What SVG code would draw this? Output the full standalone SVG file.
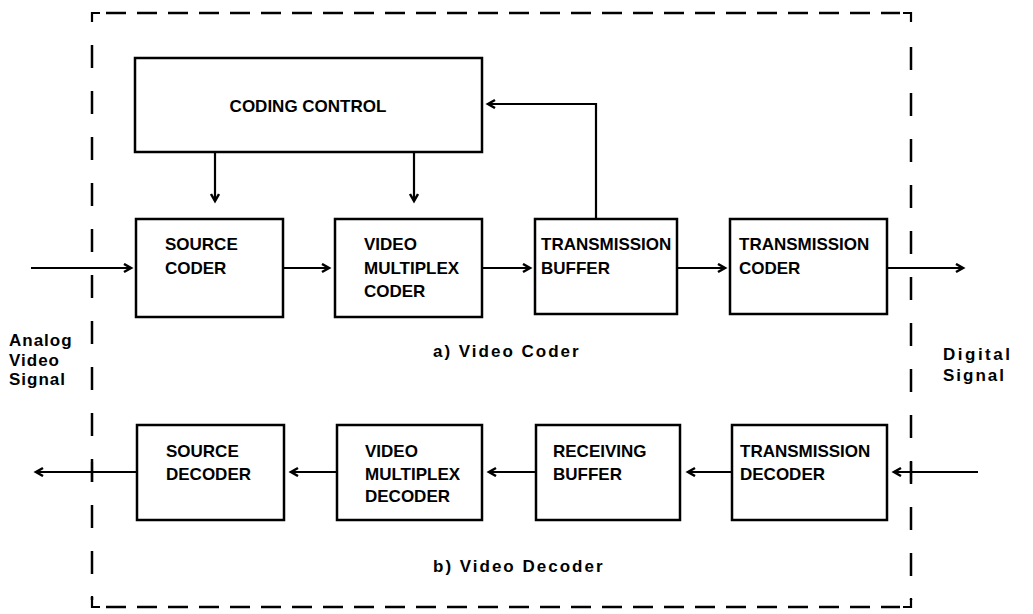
<svg xmlns="http://www.w3.org/2000/svg" width="1033" height="614" viewBox="0 0 1033 614">
<style>
.box{fill:#fff;stroke:#000;stroke-width:2.5}
.t{font-family:"Liberation Sans",Arial,sans-serif;font-weight:bold;font-size:17px;fill:#000}
.lbl{font-family:"Liberation Sans",Arial,sans-serif;font-weight:bold;font-size:17px;fill:#000;letter-spacing:2px}
.ln{fill:none;stroke:#000;stroke-width:2.2}
.dh{fill:none;stroke:#000;stroke-width:2.5;stroke-dasharray:20 11}
.dv{fill:none;stroke:#000;stroke-width:2.5;stroke-dasharray:23 23}
</style>
<defs>
<marker id="ah" markerUnits="userSpaceOnUse" markerWidth="12" markerHeight="12" refX="8" refY="5" orient="auto">
<path d="M1,1 L8,5 L1,9" fill="none" stroke="#000" stroke-width="2.5"/>
</marker>
</defs>
<g id="border">
<path class="ln" d="M92,22 L92,13 L100,13" stroke-width="2.5"/>
<line class="dh" x1="106" y1="13" x2="900" y2="13"/>
<path class="ln" d="M903,13 L911,13 L911,22" stroke-width="2.5"/>
<line class="dv" x1="92" y1="45" x2="92" y2="600"/>
<line class="dv" x1="911" y1="47" x2="911" y2="600"/>
<path class="ln" d="M92,596 L92,607 L100,607" stroke-width="2.5"/>
<line class="dh" x1="106" y1="607" x2="900" y2="607"/>
<path class="ln" d="M903,607 L911,607 L911,598" stroke-width="2.5"/>
</g>
<g id="coding-control">
<rect class="box" x="135" y="58" width="347" height="94"/>
<text class="t" x="308" y="112" text-anchor="middle">CODING CONTROL</text>
</g>
<g id="source-coder">
<rect class="box" x="136" y="219" width="147" height="98"/>
<text class="t" x="165" y="250">SOURCE</text>
<text class="t" x="165" y="274">CODER</text>
</g>
<g id="video-multiplex-coder">
<rect class="box" x="335" y="219" width="147" height="98"/>
<text class="t" x="364" y="250">VIDEO</text>
<text class="t" x="364" y="274">MULTIPLEX</text>
<text class="t" x="364" y="297">CODER</text>
</g>
<g id="transmission-buffer">
<rect class="box" x="535" y="219" width="142" height="95"/>
<text class="t" x="541" y="250">TRANSMISSION</text>
<text class="t" x="541" y="274">BUFFER</text>
</g>
<g id="transmission-coder">
<rect class="box" x="730" y="219" width="157" height="95"/>
<text class="t" x="739" y="250">TRANSMISSION</text>
<text class="t" x="739" y="274">CODER</text>
</g>
<g id="source-decoder">
<rect class="box" x="137" y="425" width="147" height="95"/>
<text class="t" x="166" y="457">SOURCE</text>
<text class="t" x="166" y="480">DECODER</text>
</g>
<g id="video-multiplex-decoder">
<rect class="box" x="337" y="425" width="145" height="95"/>
<text class="t" x="365" y="457">VIDEO</text>
<text class="t" x="365" y="480">MULTIPLEX</text>
<text class="t" x="365" y="502">DECODER</text>
</g>
<g id="receiving-buffer">
<rect class="box" x="536" y="425" width="144" height="95"/>
<text class="t" x="553" y="457">RECEIVING</text>
<text class="t" x="553" y="480">BUFFER</text>
</g>
<g id="transmission-decoder">
<rect class="box" x="732" y="425" width="155" height="95"/>
<text class="t" x="740" y="457">TRANSMISSION</text>
<text class="t" x="740" y="480">DECODER</text>
</g>
<g id="connectors">
<line class="ln" x1="215" y1="152" x2="215" y2="201" marker-end="url(#ah)"/>
<line class="ln" x1="414" y1="152" x2="414" y2="201" marker-end="url(#ah)"/>
<polyline class="ln" points="596,219 596,104 488,104" marker-end="url(#ah)"/>
<line class="ln" x1="31" y1="268" x2="131" y2="268" marker-end="url(#ah)"/>
<line class="ln" x1="283" y1="268" x2="329" y2="268" marker-end="url(#ah)"/>
<line class="ln" x1="482" y1="268" x2="530" y2="268" marker-end="url(#ah)"/>
<line class="ln" x1="677" y1="268" x2="725" y2="268" marker-end="url(#ah)"/>
<line class="ln" x1="887" y1="268" x2="963" y2="268" marker-end="url(#ah)"/>
<line class="ln" x1="978" y1="472" x2="894" y2="472" marker-end="url(#ah)"/>
<line class="ln" x1="732" y1="472" x2="688" y2="472" marker-end="url(#ah)"/>
<line class="ln" x1="536" y1="472" x2="489" y2="472" marker-end="url(#ah)"/>
<line class="ln" x1="337" y1="472" x2="291" y2="472" marker-end="url(#ah)"/>
<line class="ln" x1="137" y1="472" x2="36" y2="472" marker-end="url(#ah)"/>
<line class="ln" x1="92" y1="462" x2="92" y2="482"/>
<line class="ln" x1="911" y1="462" x2="911" y2="482"/>
</g>
<g id="labels">
<text class="lbl" x="9" y="346" style="letter-spacing:1px">Analog</text>
<text class="lbl" x="9" y="366" style="letter-spacing:1px">Video</text>
<text class="lbl" x="9" y="385" style="letter-spacing:1px">Signal</text>
<text class="lbl" x="943" y="360" style="letter-spacing:2.5px">Digital</text>
<text class="lbl" x="943" y="381" style="letter-spacing:2px">Signal</text>
<text class="lbl" x="433" y="357">a) Video Coder</text>
<text class="lbl" x="433" y="572">b) Video Decoder</text>
</g>
</svg>
